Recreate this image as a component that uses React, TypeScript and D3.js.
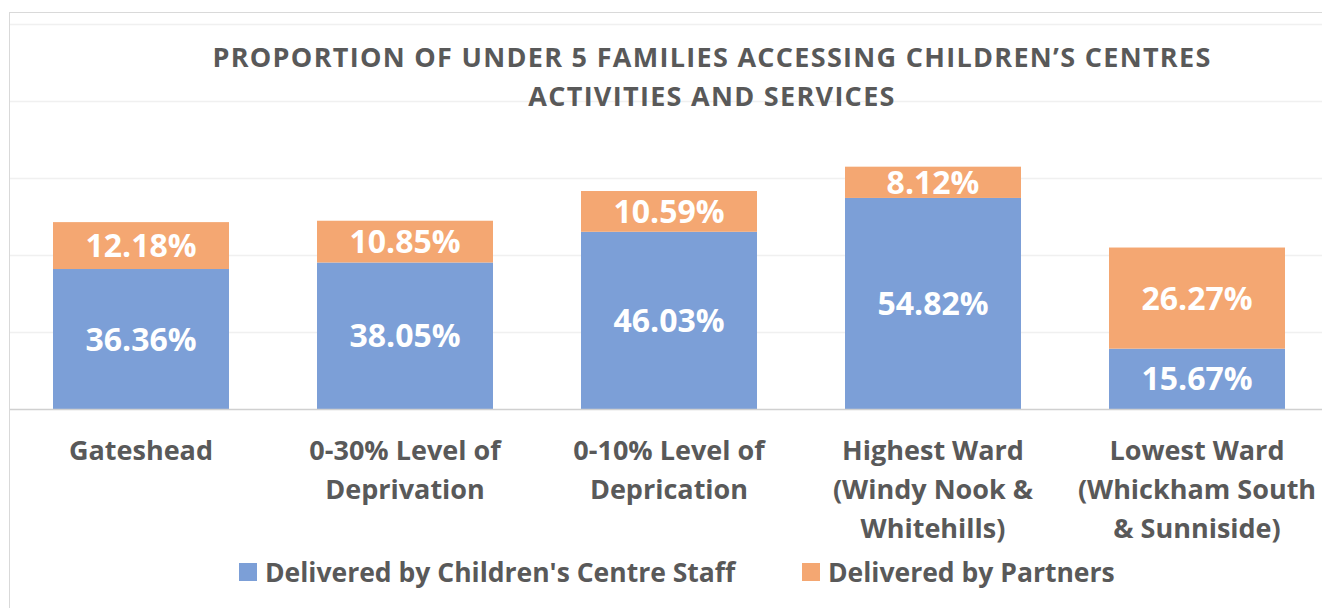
import React from "react";
import * as d3 from "d3";

const categories = [
  ["Gateshead"],
  ["0-30% Level of", "Deprivation"],
  ["0-10% Level of", "Deprication"],
  ["Highest Ward", "(Windy Nook &", "Whitehills)"],
  ["Lowest Ward", "(Whickham South", "& Sunniside)"],
];
const staffValues = [36.36, 38.05, 46.03, 54.82, 15.67];
const partnerValues = [12.18, 10.85, 10.59, 8.12, 26.27];
const seriesNames = ["Delivered by Children's Centre Staff", "Delivered by Partners"];
const yTicks = [0, 20, 40, 60, 80, 100];

const W = 1322;
const H = 608;
const BLUE = "#7c9fd7";
const ORANGE = "#f4a772";
const TEXT = "#595959";
const FONT = "'Open Sans', sans-serif";

const App = () => {
  const x = d3
    .scaleBand()
    .domain(categories.map((c, i) => String(i)))
    .range([9, 1329])
    .paddingInner(1 / 3)
    .paddingOuter(1 / 6);

  const y = d3.scaleLinear().domain([0, 100]).range([409, 24]);

  return (
    <svg
      width={W}
      height={H}
      style={{ position: "absolute", left: 0, top: 0, background: "#fff" }}
      fontFamily={FONT}
    >
      {/* chart frame */}
      <line x1={9} x2={W} y1={12.5} y2={12.5} stroke="#d9d9d9" />
      <line x1={9.5} x2={9.5} y1={12} y2={H} stroke="#d9d9d9" />

      {/* gridlines */}
      {yTicks.slice(1).map((t) => (
        <line key={t} x1={10} x2={W} y1={y(t) + 0.5} y2={y(t) + 0.5} stroke="#f0f0f0" strokeWidth={1.5} />
      ))}

      {/* title */}
      <text x={712} y={67} textAnchor="middle" fontSize={27} fontWeight={700} fill={TEXT} letterSpacing={1.3}>
        PROPORTION OF UNDER 5 FAMILIES ACCESSING CHILDREN’S CENTRES
      </text>
      <text x={712} y={106} textAnchor="middle" fontSize={27} fontWeight={700} fill={TEXT} letterSpacing={1.3}>
        ACTIVITIES AND SERVICES
      </text>

      {/* bars */}
      {categories.map((c, i) => {
        const bx = x(String(i))!;
        const bw = x.bandwidth();
        const s = staffValues[i];
        const p = partnerValues[i];
        return (
          <g key={i}>
            <rect x={bx} y={y(s)} width={bw} height={y(0) - y(s)} fill={BLUE} />
            <rect x={bx} y={y(s + p)} width={bw} height={y(s) - y(s + p)} fill={ORANGE} />
            <text
              x={bx + bw / 2}
              y={(y(0) + y(s)) / 2}
              dy="0.36em"
              textAnchor="middle"
              fontSize={32}
              fontWeight={700}
              fill="#fff"
            >
              {s.toFixed(2)}%
            </text>
            <text
              x={bx + bw / 2}
              y={(y(s) + y(s + p)) / 2}
              dy="0.36em"
              textAnchor="middle"
              fontSize={32}
              fontWeight={700}
              fill="#fff"
            >
              {p.toFixed(2)}%
            </text>
          </g>
        );
      })}

      {/* baseline */}
      <line x1={10} x2={W} y1={y(0) + 0.5} y2={y(0) + 0.5} stroke="#d0d0d0" strokeWidth={1.5} />

      {/* category labels */}
      {categories.map((lines, i) => (
        <text
          key={i}
          x={x(String(i))! + x.bandwidth() / 2}
          textAnchor="middle"
          fontSize={27}
          fontWeight={700}
          fill={TEXT}
        >
          {lines.map((l, j) => (
            <tspan key={j} x={x(String(i))! + x.bandwidth() / 2} y={460 + j * 39}>
              {l}
            </tspan>
          ))}
        </text>
      ))}

      {/* legend */}
      {[
        { name: seriesNames[0], color: BLUE, x: 239 },
        { name: seriesNames[1], color: ORANGE, x: 802 },
      ].map((d) => (
        <g key={d.name}>
          <rect x={d.x} y={563} width={18} height={18} fill={d.color} />
          <text x={d.x + 26} y={582} fontSize={26.5} fontWeight={700} fill={TEXT}>
            {d.name}
          </text>
        </g>
      ))}
    </svg>
  );
};

export default App;
